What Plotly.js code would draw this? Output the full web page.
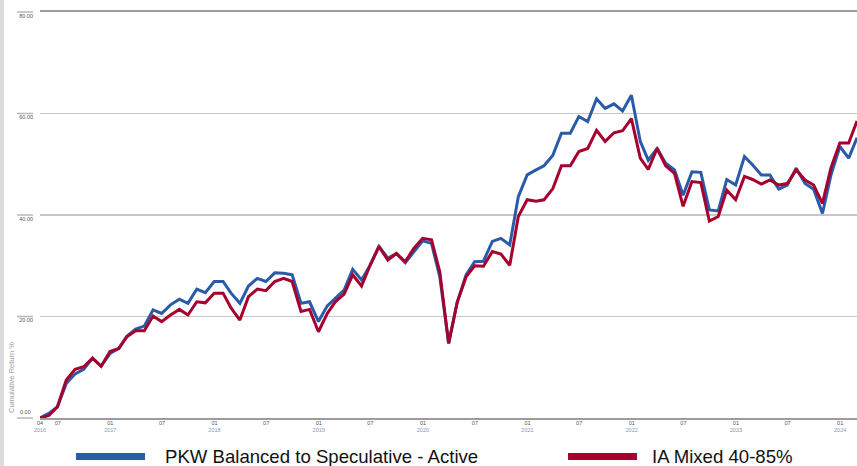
<!DOCTYPE html>
<html>
<head>
<meta charset="utf-8">
<script src="https://cdn.plot.ly/plotly-3.0.1.min.js"></script>
<style>
  html, body { margin: 0; padding: 0; background: #ffffff; }
  #wrap { position: relative; width: 857px; height: 466px; }
  #strip { position: absolute; left: 0; top: 0; width: 4px; height: 466px; background: #dcdcdc; z-index: 2; }
  #chart { position: absolute; left: 0; top: 0; width: 857px; height: 466px; }
</style>
</head>
<body>
<div id="wrap"><div id="strip"></div><div id="chart"></div></div>
<script>
// ---- data ----
const startYear = 2016, startMonth = 4, monthCount = 95;   // monthly, Apr 2016 .. Feb 2024
const seriesNames = ["PKW Balanced to Speculative - Active", "IA Mixed 40-85%"];
const pkwValues = [
  0.0, 0.9, 2.2, 6.8, 8.7, 9.6, 11.8, 10.2, 12.7, 13.7,
  16.1, 17.5, 18.1, 21.3, 20.6, 22.3, 23.4, 22.6, 25.4, 24.7,
  26.9, 26.9, 24.6, 22.6, 26.0, 27.5, 26.9, 28.6, 28.5, 28.2,
  22.6, 22.9, 19.0, 22.1, 23.6, 25.2, 29.3, 27.2, 30.1, 33.8,
  31.5, 32.4, 30.6, 32.8, 34.9, 34.4, 27.8, 14.7, 22.8, 28.2,
  30.8, 30.9, 34.8, 35.4, 34.1, 43.6, 47.9, 48.9, 49.7, 51.8,
  56.1, 56.1, 59.4, 58.4, 62.9, 61.0, 61.9, 60.5, 63.6, 54.5,
  50.8, 53.1, 50.2, 48.9, 43.9, 48.5, 48.4, 41.0, 40.8, 47.0,
  45.9, 51.5, 49.9, 47.9, 47.9, 45.1, 45.9, 49.2, 46.2, 45.1,
  40.3, 47.9, 53.5, 51.2, 55.2
];
const iaValues = [
  0.0, 0.5, 2.2, 7.5, 9.6, 10.1, 11.8, 10.2, 13.1, 13.7,
  16.0, 17.2, 17.2, 20.1, 19.0, 20.3, 21.4, 20.3, 22.9, 22.7,
  24.6, 24.6, 21.7, 19.3, 23.9, 25.4, 25.1, 26.9, 27.5, 26.9,
  21.0, 21.4, 17.0, 20.6, 22.9, 24.4, 28.2, 26.0, 30.1, 33.8,
  31.1, 32.4, 30.8, 33.4, 35.4, 35.1, 28.8, 14.7, 22.8, 27.8,
  30.0, 29.9, 32.8, 32.3, 30.1, 39.7, 43.0, 42.7, 43.0, 45.2,
  49.7, 49.7, 52.5, 53.1, 56.7, 54.5, 56.2, 56.6, 59.0, 51.2,
  49.0, 53.1, 49.7, 48.2, 41.7, 46.6, 46.4, 38.8, 39.7, 44.9,
  43.0, 47.6, 47.0, 46.1, 46.9, 45.9, 46.2, 48.9, 46.9, 45.9,
  42.3, 49.3, 54.2, 54.2, 58.5
];
const xTickVals = ["2016-04-30", "2016-07-01", "2017-01-01", "2017-07-01", "2018-01-01", "2018-07-01",
  "2019-01-01", "2019-07-01", "2020-01-01", "2020-07-01", "2021-01-01", "2021-07-01",
  "2022-01-01", "2022-07-01", "2023-01-01", "2023-07-01", "2024-01-01"];
const xTickMonths = ["04", "07", "01", "07", "01", "07", "01", "07", "01", "07", "01", "07", "01", "07", "01", "07", "01"];
const xTickYears  = ["2016", "", "2017", "", "2018", "", "2019", "", "2020", "", "2021", "", "2022", "", "2023", "", "2024"];
const yTickVals = [0, 20, 40, 60, 80];
const yTitle = "Cumulative Return %";

// ---- build ----
function monthEnd(y, m) {
  const d = new Date(Date.UTC(y, m, 0));
  return d.toISOString().slice(0, 10);
}
const dates = [];
for (let i = 0; i < monthCount; i++) {
  const m0 = startMonth - 1 + i;
  const y = startYear + Math.floor(m0 / 12);
  const m = (m0 % 12) + 1;
  dates.push(monthEnd(y, m));
}
const xTickText = xTickMonths.map((m, i) =>
  xTickYears[i] ? m + "<br><span style='color:#8397b8'>" + xTickYears[i] + "</span>" : m);

const BLUE = "#2a5ba8", RED = "#a6002f";
const narrow = "Liberation Sans Narrow, Liberation Sans, Arial, sans-serif";
const yMax = yTickVals[yTickVals.length - 1];

const traces = [
  { x: dates, y: pkwValues, name: seriesNames[0], type: "scatter", mode: "lines",
    line: { color: BLUE, width: 3 } },
  { x: dates, y: iaValues, name: seriesNames[1], type: "scatter", mode: "lines",
    line: { color: RED, width: 3 } }
];

const shapes = yTickVals.map(v => ({
  type: "line", xref: "paper", yref: "paper",
  x0: -0.0282, x1: -0.0086, y0: v / yMax, y1: v / yMax,
  line: { color: "#b8b8b8", width: 1.5 }
}));
// legend swatches
shapes.push({ type: "line", xref: "paper", yref: "paper", x0: 0.0441, x1: 0.1285, y0: -0.0948, y1: -0.0948,
  line: { color: BLUE, width: 7 } });
shapes.push({ type: "line", xref: "paper", yref: "paper", x0: 0.6463, x1: 0.7307, y0: -0.0948, y1: -0.0948,
  line: { color: RED, width: 7 } });

const annotations = [
  { text: seriesNames[0], xref: "paper", yref: "paper", x: 0.151, y: -0.0948, xanchor: "left", yanchor: "middle",
    showarrow: false, font: { family: "Liberation Sans, Arial, sans-serif", size: 18.6, color: "#111" } },
  { text: seriesNames[1], xref: "paper", yref: "paper", x: 0.747, y: -0.0948, xanchor: "left", yanchor: "middle",
    showarrow: false, font: { family: "Liberation Sans, Arial, sans-serif", size: 18.6, color: "#111" } },
  { text: yTitle, xref: "paper", yref: "paper", x: -0.0343, y: 0.101, xanchor: "center", yanchor: "middle",
    textangle: -90, showarrow: false, font: { family: narrow, size: 7.5, color: "#a0a0a0" } },
  // the 0.00 label sits above its guide line in the original
  { text: (0).toFixed(2), xref: "paper", yref: "paper", x: -0.0086, y: 0.0, xanchor: "right", yanchor: "bottom",
    yshift: 1, showarrow: false, font: { family: narrow, size: 5.5, color: "#555" } }
];

const layout = {
  width: 857, height: 466,
  margin: { l: 40, r: 0, t: 12, b: 48, pad: 0 },
  paper_bgcolor: "#ffffff", plot_bgcolor: "#ffffff",
  showlegend: false,
  xaxis: {
    type: "date",
    range: [dates[0], dates[dates.length - 1]],
    tickmode: "array", tickvals: xTickVals, ticktext: xTickText,
    tickangle: 0,
    ticks: "", showgrid: false, zeroline: false,
    showline: true, linecolor: "#9c9c9c", linewidth: 2, mirror: true,
    tickfont: { family: narrow, size: 5.5, color: "#555" },
    ticklabelstandoff: -2
  },
  yaxis: {
    range: [0, yMax], tickmode: "array", tickvals: yTickVals.slice(1),
    tickformat: ".2f",
    showgrid: true, gridcolor: "#c6c6c6", gridwidth: 1.5,
    zeroline: false, showline: false, ticks: "",
    ticklabelposition: "outside bottom",
    ticklabelstandoff: 6,
    tickfont: { family: narrow, size: 5.5, color: "#555" }
  },
  shapes: shapes,
  annotations: annotations
};

Plotly.newPlot("chart", traces, layout, { displayModeBar: false, staticPlot: true });
</script>
</body>
</html>
